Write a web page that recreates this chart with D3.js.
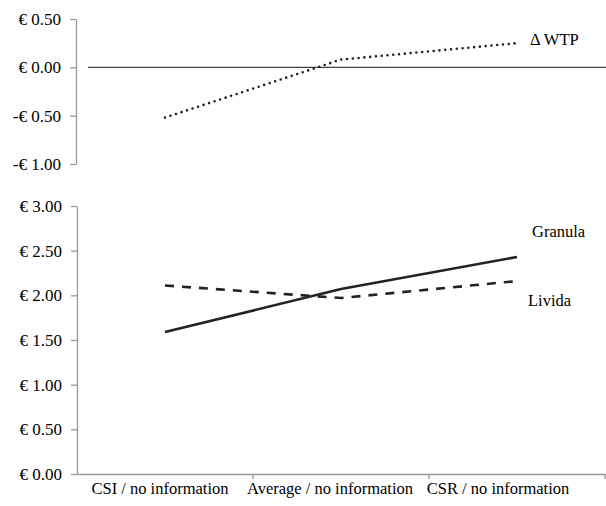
<!DOCTYPE html>
<html>
<head>
<meta charset="utf-8">
<script src="https://cdn.jsdelivr.net/npm/d3@7"></script>
<style>
  body { margin: 0; background: #fff; }
  .axis path, .axis line { stroke: #999; stroke-width: 1.3; }
</style>
</head>
<body>
<svg id="chart" width="606" height="506"></svg>
<script>
{
  // Data //////////////////////////////////////////////////////////////////
  const categories = ['CSI / no information', 'Average / no information', 'CSR / no information'];
  const deltaWtp = [-0.52, 0.08, 0.25];
  const granula = [1.59, 2.07, 2.43];
  const livida = [2.11, 1.97, 2.16];
  const topTicks = [0.5, 0, -0.5, -1];
  const bottomTicks = [3, 2.5, 2, 1.5, 1, 0.5, 0];

  // Nudge for the category labels so they sit like the original
  const labelShift = [-5, -11, -19];

  const serif = '"Liberation Serif", "Times New Roman", serif';

  const svg = d3.select('#chart');

  const fmtEuro = v => (v < 0 ? '-€ ' : '€ ') + Math.abs(v).toFixed(2);

  // put every text in the same serif face, in black
  const styleText = (sel, size) => sel
    .style('font-family', serif)
    .style('font-size', size)
    .style('fill', '#000');

  // Shared x scale (categories are bands, points at band centres)
  const x = d3.scaleBand()
    .domain(categories)
    .range([77, 605]);
  const xc = d => x(d) + x.bandwidth() / 2;

  // Top panel: change in WTP /////////////////////////////////////////////
  const yTop = d3.scaleLinear()
    .domain([-1, 0.5])
    .range([164, 19]);

  svg.append('g')
    .attr('class', 'axis')
    .attr('transform', 'translate(76,0)')
    .call(d3.axisLeft(yTop).tickValues(topTicks).tickFormat(fmtEuro)
      .tickSize(6).tickSizeOuter(0).tickPadding(9))
    .call(g => styleText(g.selectAll('text'), '17px'));

  // zero reference line
  svg.append('line')
    .attr('x1', 88)
    .attr('x2', 606)
    .attr('y1', yTop(0))
    .attr('y2', yTop(0))
    .attr('stroke', '#444')
    .attr('stroke-width', 1.4);

  const lineTop = d3.line()
    .x((d, i) => xc(categories[i]))
    .y(d => yTop(d));

  svg.append('path')
    .datum(deltaWtp)
    .attr('d', lineTop)
    .attr('fill', 'none')
    .attr('stroke', '#222')
    .attr('stroke-width', 2.6)
    .attr('stroke-linecap', 'round')
    .attr('stroke-dasharray', '0,5.8');

  svg.append('text')
    .attr('x', xc(categories[2]) + 13)
    .attr('y', yTop(deltaWtp[2]) + 2)
    .call(t => styleText(t, '16.5px'))
    .text('Δ WTP');

  // Bottom panel: WTP per product ////////////////////////////////////////
  const yBot = d3.scaleLinear()
    .domain([0, 3])
    .range([474, 206]);

  svg.append('g')
    .attr('class', 'axis')
    .attr('transform', 'translate(77,0)')
    .call(d3.axisLeft(yBot).tickValues(bottomTicks).tickFormat(fmtEuro)
      .tickSize(6).tickSizeOuter(0).tickPadding(9))
    .call(g => styleText(g.selectAll('text'), '17px'));

  const xAxis = svg.append('g')
    .attr('class', 'axis')
    .attr('transform', 'translate(0,474)')
    .call(d3.axisBottom(x).tickSize(0).tickSizeOuter(0).tickPadding(8));
  styleText(xAxis.selectAll('text'), '16.5px')
    .attr('dx', (d, i) => labelShift[i]);

  // tick marks sit between categories, like in Excel
  xAxis.selectAll('.sep')
    .data(categories)
    .enter().append('line')
    .attr('class', 'sep')
    .attr('x1', d => x(d) + x.bandwidth())
    .attr('x2', d => x(d) + x.bandwidth())
    .attr('y1', 0)
    .attr('y2', 5);

  const lineBot = d3.line()
    .x((d, i) => xc(categories[i]))
    .y(d => yBot(d));

  svg.append('path')
    .datum(livida)
    .attr('d', lineBot)
    .attr('fill', 'none')
    .attr('stroke', '#222')
    .attr('stroke-width', 2.6)
    .attr('stroke-dasharray', '9,8');

  svg.append('path')
    .datum(granula)
    .attr('d', lineBot)
    .attr('fill', 'none')
    .attr('stroke', '#222')
    .attr('stroke-width', 2.6);

  svg.append('text')
    .attr('x', xc(categories[2]) + 15)
    .attr('y', yBot(granula[2]) - 20)
    .call(t => styleText(t, '16.5px'))
    .text('Granula');

  svg.append('text')
    .attr('x', xc(categories[2]) + 11)
    .attr('y', yBot(livida[2]) + 25)
    .call(t => styleText(t, '16.5px'))
    .text('Livida');
}
</script>
</body>
</html>
